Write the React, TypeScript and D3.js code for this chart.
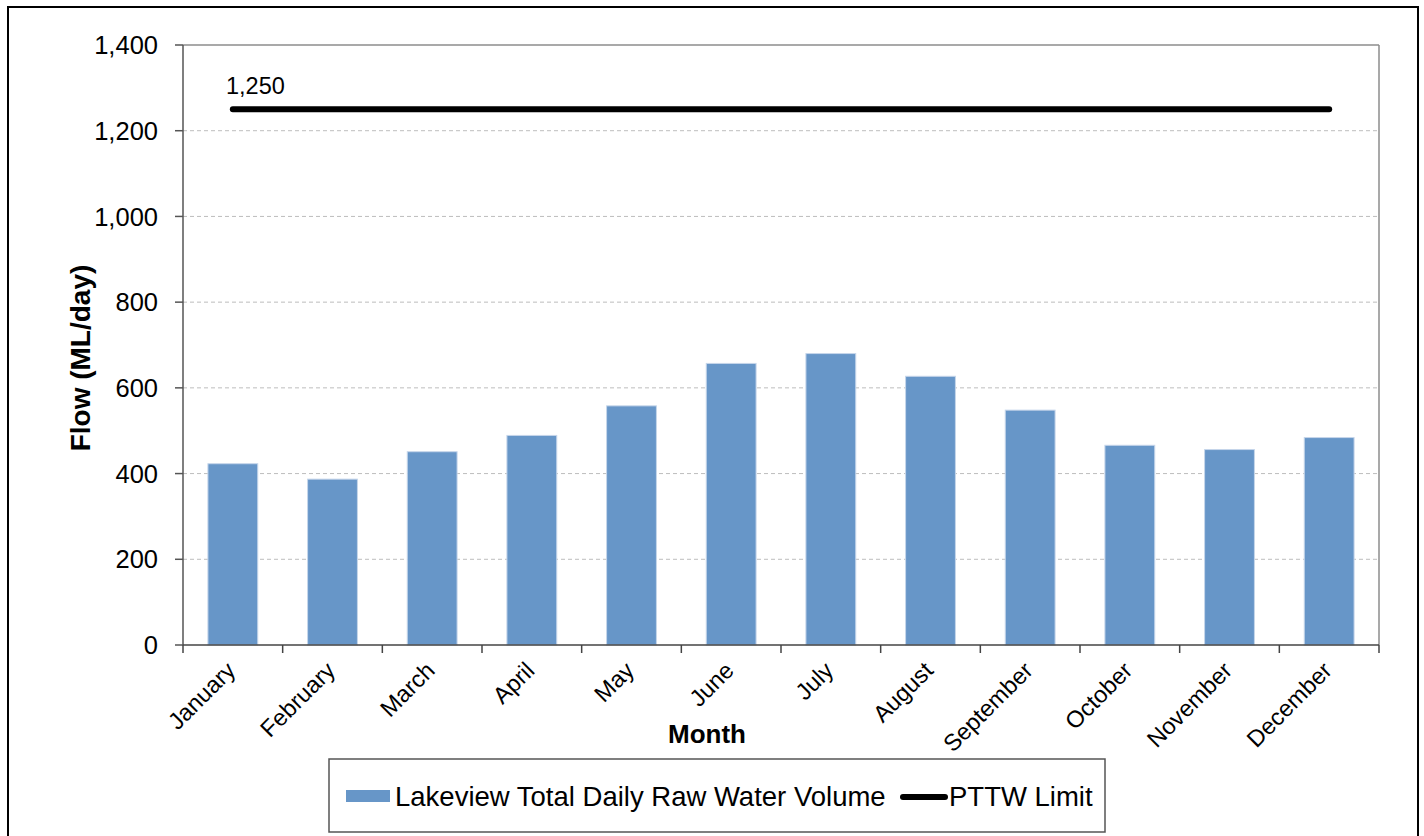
import React from "react";
import * as d3 from "d3";

const months = [
  "January", "February", "March", "April", "May", "June",
  "July", "August", "September", "October", "November", "December",
];
const dailyVolume = [423, 387, 451, 489, 558, 657, 680, 627, 548, 466, 456, 484];
const limitValues = [1250, 1250, 1250, 1250, 1250, 1250, 1250, 1250, 1250, 1250, 1250, 1250];
const yTicks = [0, 200, 400, 600, 800, 1000, 1200, 1400];
const limitLabel = "1,250";

const W = 1424;
const H = 836;
const margin = { top: 45, right: 45, bottom: 191, left: 183 };
const font = "'Liberation Sans', Arial, sans-serif";
const barColor = "#6796c8";

const App = () => {
  const x = d3.scaleBand()
    .domain(months)
    .range([margin.left, W - margin.right])
    .paddingInner(0.5)
    .paddingOuter(0.25);

  const xStep = d3.scaleBand().domain(months).range([margin.left, W - margin.right]);

  const y = d3.scaleLinear()
    .domain([0, 1400])
    .range([H - margin.bottom, margin.top]);

  const fmt = d3.format(",");
  const cx = (m: string) => (xStep(m) as number) + xStep.bandwidth() / 2;

  const limitLine = d3.line<number>()
    .x((_, i) => cx(months[i]))
    .y((d) => y(d));

  const x0 = margin.left;
  const x1 = W - margin.right;
  const y0 = y(0);
  const yTop = y(1400);

  return (
    <svg width={W} height={H} style={{ position: "absolute", left: 0, top: 0 }} fontFamily={font}>
      <rect x={0} y={0} width={W} height={H} fill="white" />
      <rect x={8} y={7} width={1410} height={840} fill="none" stroke="#000" strokeWidth={2} />

      {/* gridlines */}
      {yTicks.filter(t => t > 0 && t < 1400).map((t) => (
        <line key={t} x1={x0} x2={x1} y1={y(t)} y2={y(t)} stroke="#bdbdbd" strokeDasharray="4,3" />
      ))}

      {/* frame */}
      <line x1={x0} x2={x1} y1={yTop} y2={yTop} stroke="#8c8c8c" strokeWidth={1.5} />
      <line x1={x1} x2={x1} y1={yTop} y2={y0} stroke="#8c8c8c" strokeWidth={1.5} />

      {/* bars */}
      {dailyVolume.map((v, i) => (
        <rect key={i}
          x={x(months[i])}
          y={y(v)}
          width={x.bandwidth()}
          height={y0 - y(v)}
          fill={barColor}
          stroke="#c6d6ea"
          strokeWidth={1} />
      ))}

      {/* axes */}
      <line x1={x0} x2={x0} y1={yTop} y2={y0} stroke="#555" strokeWidth={1.5} />
      <line x1={x0} x2={x1} y1={y0} y2={y0} stroke="#444" strokeWidth={1.5} />
      {yTicks.map((t) => (
        <g key={t}>
          <line x1={x0 - 8} x2={x0} y1={y(t)} y2={y(t)} stroke="#555" strokeWidth={1.5} />
          <text x={158} y={y(t)} dy="0.36em" textAnchor="end" fontSize={25.5} fill="#000">{fmt(t)}</text>
        </g>
      ))}
      {[...months.map((m) => xStep(m) as number), x1].map((p, i) => (
        <line key={i} x1={p} x2={p} y1={y0} y2={y0 + 8} stroke="#444" strokeWidth={1.5} />
      ))}
      {months.map((m) => (
        <text key={m}
          transform={`translate(${cx(m) + 4}, ${y0 + 27}) rotate(-45)`}
          textAnchor="end"
          fontSize={23.5}
          fill="#000">{m}</text>
      ))}

      {/* limit line */}
      <path d={limitLine(limitValues) || ""} fill="none" stroke="#000" strokeWidth={6} strokeLinecap="round" />
      <text x={226} y={94} fontSize={23.5} fill="#000">{limitLabel}</text>

      {/* axis titles */}
      <text x={707} y={743} textAnchor="middle" fontSize={26} fontWeight="bold">Month</text>
      <text transform="translate(90, 358) rotate(-90)" textAnchor="middle" fontSize={28} fontWeight="bold">Flow (ML/day)</text>

      {/* legend */}
      <rect x={329} y={759} width={776} height={73} fill="white" stroke="#555" strokeWidth={1.5} />
      <rect x={346} y={790} width={44} height={12} fill={barColor} />
      <text x={395} y={806} fontSize={27.5}>Lakeview Total Daily Raw Water Volume</text>
      <line x1={903} x2={945} y1={797} y2={797} stroke="#000" strokeWidth={6} strokeLinecap="round" />
      <text x={949} y={806} fontSize={27.5}>PTTW Limit</text>
    </svg>
  );
};

export default App;
